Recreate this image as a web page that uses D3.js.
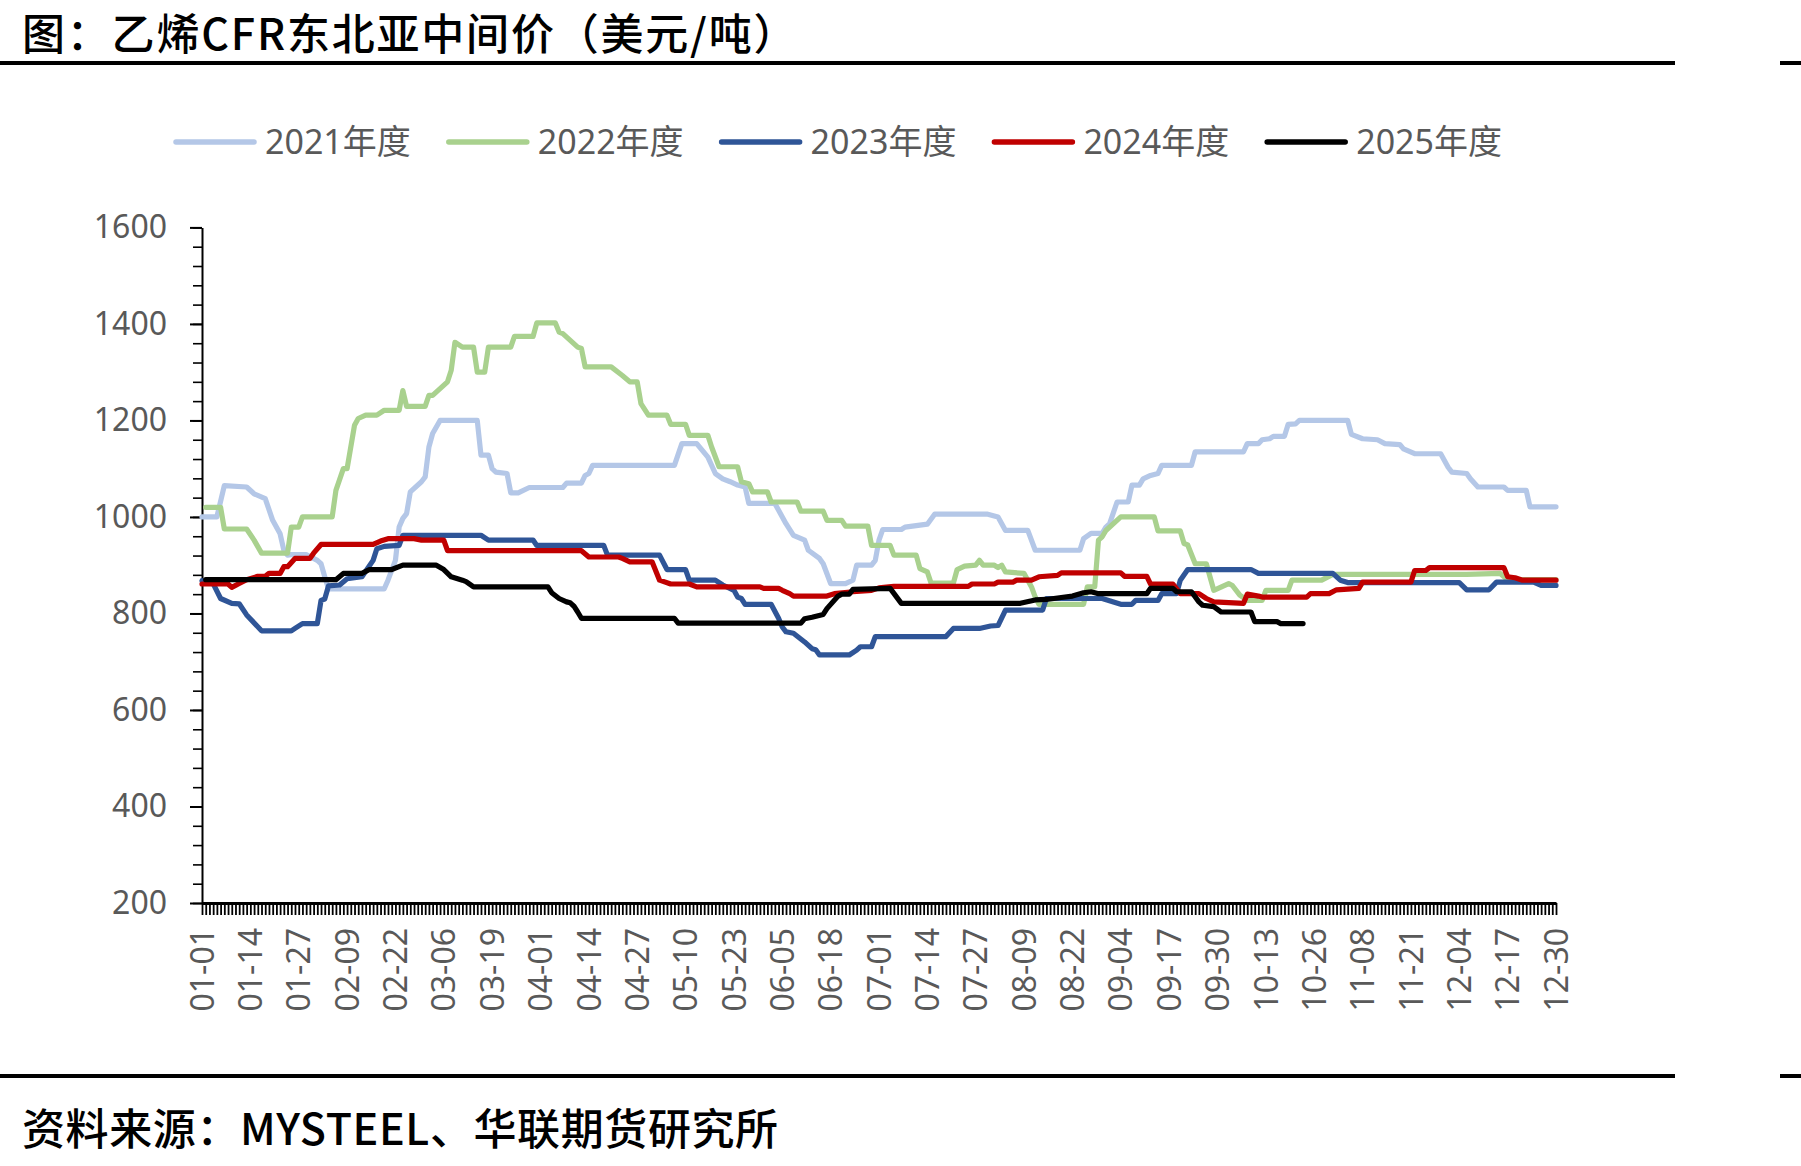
<!DOCTYPE html>
<html>
<head>
<meta charset="utf-8">
<style>
  body { margin: 0; background: #fff; }
  text { font-family: "Noto Sans", "Noto Sans CJK SC", sans-serif; }
  .heading { font-family: "Noto Sans CJK SC", sans-serif; font-size: 43px; font-weight: 500; fill: #000; }
  .axis text { fill: #595959; font-size: 32px; }
  .axis path, .axis line { stroke: #000; }
  .legend text { fill: #595959; font-size: 34px; }
  .series { fill: none; stroke-width: 5.2px; stroke-linejoin: round; stroke-linecap: round; }
  .rule { stroke: #000; stroke-width: 4px; }
</style>
</head>
<body>
<script src="https://d3js.org/d3.v7.min.js"></script>
<script>
var title = "图：乙烯CFR东北亚中间价（美元/吨）";
var source = "资料来源：MYSTEEL、华联期货研究所";

var years = ["2021年度", "2022年度", "2023年度", "2024年度", "2025年度"];
var colors = ["#b4c7e7", "#a9d18e", "#2f5597", "#c00000", "#000000"];

var yTicks = [200, 400, 600, 800, 1000, 1200, 1400, 1600];
var xTickLabels = ["01-01", "01-14", "01-27", "02-09", "02-22", "03-06", "03-19", "04-01",
  "04-14", "04-27", "05-10", "05-23", "06-05", "06-18", "07-01", "07-14", "07-27", "08-09",
  "08-22", "09-04", "09-17", "09-30", "10-13", "10-26", "11-08", "11-21", "12-04", "12-17", "12-30"];

// [day of year (0 = 01-01), price]
var s2021 = [[0,1000],[4,1000],[6,1065],[12,1062],[14,1048],[17,1038],[19,993],[21,965],[22,931],
  [23,921],[24,922],[28,922],[31,910],[32,903],[33,876],[34,851],[49,851],[50,869],[52,910],[53,979],
  [54,997],[55,1007],[56,1052],[59,1073],[60,1083],[61,1145],[62,1173],[64,1200],[74,1200],[75,1128],
  [77,1128],[78,1100],[79,1093],[82,1090],[83,1050],[85,1050],[88,1061],[97,1061],[98,1070],[102,1070],
  [103,1086],[104,1090],[105,1107],[127,1107],[129,1152],[133,1152],[136,1124],[138,1090],[140,1079],
  [142,1073],[144,1066],[146,1062],[147,1028],[154,1028],[157,986],[159,962],[162,952],[163,931],
  [166,914],[167,903],[169,862],[173,862],[175,869],[176,900],[180,900],[181,910],[182,952],[183,974],
  [188,974],[189,979],[195,985],[197,1006],[211,1006],[214,1000],[216,972],[222,972],[224,931],
  [236,931],[237,955],[239,966],[242,966],[243,979],[244,986],[246,1031],[249,1031],[250,1066],
  [252,1066],[253,1079],[255,1086],[257,1090],[258,1107],[266,1107],[267,1135],[280,1135],[281,1152],
  [284,1152],[285,1160],[287,1162],[288,1167],[291,1167],[292,1192],[294,1193],[295,1200],[308,1200],
  [309,1171],[312,1162],[316,1160],[318,1152],[322,1150],[323,1141],[326,1131],[333,1131],[335,1103],
  [336,1093],[340,1090],[341,1079],[343,1062],[350,1062],[351,1055],[356,1055],[357,1021],[364,1021]];

var s2022 = [[1,1020],[5,1020],[6,975],[12,975],[14,952],[16,925],[23,925],[24,979],[26,979],[27,1000],
  [35,1000],[36,1055],[38,1100],[39,1100],[41,1190],[42,1204],[44,1211],[47,1211],[49,1221],[53,1221],
  [54,1262],[55,1229],[60,1229],[61,1252],[62,1252],[66,1280],[67,1304],[68,1362],[70,1352],[73,1352],
  [74,1300],[76,1300],[77,1352],[83,1352],[84,1374],[89,1374],[90,1402],[95,1402],[96,1383],[97,1380],
  [101,1352],[102,1349],[103,1311],[110,1311],[113,1293],[115,1280],[117,1280],[118,1235],[120,1211],
  [125,1211],[126,1192],[130,1192],[131,1169],[136,1169],[137,1145],[139,1104],[144,1104],[145,1073],
  [147,1069],[148,1052],[152,1052],[153,1031],[160,1031],[161,1012],[167,1012],[168,993],[172,993],
  [173,981],[179,981],[180,941],[185,941],[186,921],[192,921],[193,893],[195,886],[196,863],[202,863],
  [203,891],[205,898],[208,900],[209,910],[210,900],[213,900],[214,895],[215,900],[216,886],[221,883],
  [223,855],[224,834],[225,819],[237,819],[238,855],[240,855],[241,952],[242,959],[243,972],[247,1000],
  [256,1000],[257,971],[263,971],[264,945],[265,942],[267,903],[270,903],[272,848],[276,862],[277,858],
  [279,838],[281,827],[285,827],[286,848],[292,848],[293,869],[301,869],[304,881],[340,881],[349,883],
  [351,870],[364,870]];

var s2023 = [[0,868],[3,862],[5,831],[8,821],[10,820],[12,797],[16,764],[24,764],[25,769],[27,779],
  [31,779],[32,827],[33,830],[34,857],[37,859],[39,872],[43,876],[46,910],[47,934],[49,939],[53,941],
  [54,962],[75,962],[77,952],[89,952],[90,941],[108,941],[109,921],[123,921],[125,891],[130,891],
  [131,869],[138,869],[140,859],[143,848],[144,834],[145,831],[146,819],[153,819],[155,790],[156,772],
  [157,762],[159,759],[162,741],[164,727],[165,725],[166,714],[174,714],[176,724],[177,731],[180,731],
  [181,752],[200,752],[202,769],[209,769],[212,774],[214,775],[216,807],[226,807],[227,831],[242,831],
  [247,819],[250,819],[251,827],[257,827],[258,841],[262,841],[263,869],[265,891],[282,891],[284,883],
  [304,883],[306,869],[308,864],[338,864],[340,849],[346,849],[348,865],[358,865],[360,858],[364,858]];

var s2024 = [[0,861],[7,861],[8,854],[10,862],[12,870],[15,877],[17,877],[18,883],[21,883],[22,897],
  [23,897],[25,914],[29,914],[30,925],[32,943],[46,943],[48,950],[50,955],[57,955],[59,952],[65,952],
  [66,930],[102,930],[104,917],[112,917],[113,914],[115,907],[121,907],[123,869],[126,861],[131,861],
  [133,855],[150,855],[151,852],[155,852],[156,848],[158,841],[159,836],[168,836],[170,841],[175,845],
  [180,848],[182,853],[186,856],[206,856],[207,861],[213,861],[214,865],[218,865],[219,869],[223,869],
  [225,876],[230,879],[231,884],[247,884],[248,877],[254,877],[255,861],[261,861],[263,841],[268,841],
  [270,831],[272,824],[280,821],[281,840],[284,836],[285,834],[297,834],[298,841],[303,841],[305,849],
  [311,852],[312,865],[325,865],[326,889],[329,889],[330,895],[350,895],[351,876],[353,874],[355,869],
  [364,869]];

var s2025 = [[1,870],[36,870],[38,883],[43,883],[45,891],[51,891],[54,900],[63,900],[65,891],[67,876],
  [70,869],[71,866],[73,855],[93,855],[94,843],[96,831],[98,824],[99,822],[100,815],[101,803],[102,790],
  [127,790],[128,780],[161,780],[162,789],[164,792],[167,798],[168,810],[171,836],[172,840],[174,840],
  [175,850],[185,852],[188,821],[220,821],[224,828],[227,829],[231,833],[234,836],[237,843],[239,845],
  [241,841],[254,841],[255,852],[261,852],[262,845],[266,845],[268,824],[269,817],[272,814],[274,803],
  [282,803],[283,783],[289,783],[290,779],[296,779]];

var series = [s2021, s2022, s2023, s2024, s2025];

var width = 1801, height = 1166;
var yearStart = new Date(2024, 0, 1);
var days = d3.timeDay.range(yearStart, new Date(2024, 11, 31)); // 01-01 .. 12-30
var parseMD = d3.timeParse("%Y-%m-%d");
function dayIndex(md) { return d3.timeDay.count(yearStart, parseMD("2024-" + md)); }

var svg = d3.select("body").append("svg")
    .attr("width", width)
    .attr("height", height);

var x = d3.scaleLinear().domain([0, days.length - 1]).range([202, 1556]);
var y = d3.scaleLinear().domain([200, 1600]).range([903, 227.4]);

// header / footer and the two rules
svg.append("text").attr("class", "heading").attr("x", 22).attr("y", 50)
    .attr("letter-spacing", 1.8).text(title);
svg.append("text").attr("class", "heading").attr("x", 22).attr("y", 1145)
    .attr("letter-spacing", 0.6).text(source);
[63, 1076].forEach(function(ry) {
  svg.append("line").attr("class", "rule").attr("x1", 0).attr("x2", 1675).attr("y1", ry).attr("y2", ry);
  svg.append("line").attr("class", "rule").attr("x1", 1780).attr("x2", width).attr("y1", ry).attr("y2", ry);
});

// y axis: minor ticks then major ticks with labels
svg.append("g")
    .attr("class", "axis")
    .attr("transform", "translate(" + x(0) + ",0)")
    .call(d3.axisLeft(y).tickValues(d3.range(200, 1601, 40)).tickSize(9).tickSizeOuter(0).tickFormat(""))
    .call(function(g) { g.selectAll("line").attr("stroke-width", 1.6); g.select(".domain").attr("stroke-width", 2); });

svg.append("g")
    .attr("class", "axis")
    .attr("transform", "translate(" + x(0) + ",0)")
    .call(d3.axisLeft(y).tickValues(yTicks).tickSize(12).tickSizeOuter(0).tickPadding(23).tickFormat(d3.format("d")))
    .call(function(g) {
      g.select(".domain").remove();
      g.selectAll("line").attr("stroke-width", 2);
      g.selectAll("text").attr("font-size", 32);
    });

// x axis: one tick per day, labels every 13 days
svg.append("g")
    .attr("class", "axis")
    .attr("transform", "translate(0," + y(200) + ")")
    .call(d3.axisBottom(x).tickValues(d3.range(days.length)).tickSize(12).tickSizeOuter(0).tickFormat(""))
    .call(function(g) {
      g.selectAll("line").attr("stroke-width", 1.8);
      g.select(".domain").attr("stroke-width", 3);
    });

svg.append("g")
    .attr("class", "axis")
    .attr("transform", "translate(0," + y(200) + ")")
    .call(d3.axisBottom(x).tickValues(xTickLabels.map(dayIndex)).tickSize(0)
      .tickFormat(function(d) { return d3.timeFormat("%m-%d")(days[d]); }))
    .call(function(g) {
      g.select(".domain").remove();
      g.selectAll("text")
          .attr("font-size", 32)
          .attr("transform", "rotate(-90)")
          .attr("x", -25)
          .attr("y", 0)
          .attr("dy", "0.35em")
          .style("text-anchor", "end");
    });

// series lines
var line = d3.line()
    .x(function(d) { return x(d[0]); })
    .y(function(d) { return y(d[1]); });

svg.append("g").selectAll("path")
    .data(series)
  .enter().append("path")
    .attr("class", "series")
    .attr("stroke", function(d, i) { return colors[i]; })
    .attr("d", line);

// legend
var legend = svg.append("g").attr("class", "legend")
  .selectAll("g")
    .data(years)
  .enter().append("g")
    .attr("transform", function(d, i) { return "translate(" + (176 + i * 272.8) + ",142)"; });

legend.append("line")
    .attr("x1", 0).attr("x2", 78)
    .attr("stroke", function(d, i) { return colors[i]; })
    .attr("stroke-width", 5.5)
    .attr("stroke-linecap", "round");

legend.append("text")
    .attr("x", 89)
    .attr("dy", "0.35em")
    .text(function(d) { return d; });
</script>
</body>
</html>
